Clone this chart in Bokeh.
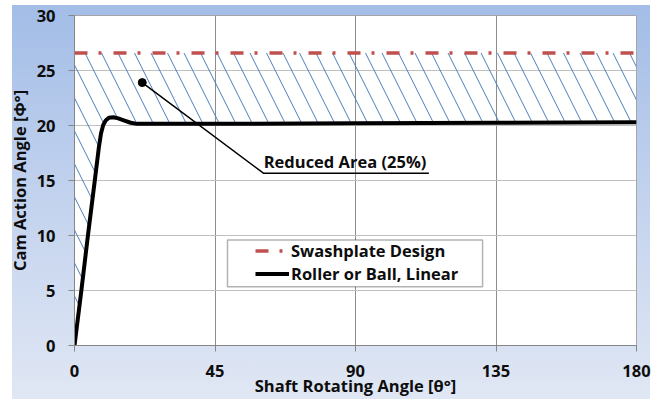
from bokeh.plotting import figure
from bokeh.models import Range1d, FixedTicker, Legend, LegendItem, BoxAnnotation
from bokeh.core.properties import value
from bokeh.embed import file_html
from bokeh.resources import INLINE

# ---- data ----
roller_x = [0, 2.2, 4.3, 6.5, 7.8, 8.5, 9.2, 10, 11, 12.5, 14, 16, 18, 20, 45, 90, 135, 180]
roller_y = [0, 5, 10, 15, 18, 19.3, 20.05, 20.45, 20.7, 20.75, 20.65, 20.45, 20.25, 20.15, 20.15, 20.2, 20.25, 20.3]
swash_x = [0, 180]
swash_y = [26.6, 26.6]
x_ticks = [0, 45, 90, 135, 180]
y_ticks = [0, 5, 10, 15, 20, 25, 30]
note_text = "Reduced Area (25%)"
note_point = (21.7, 23.9)
note_elbow = (60.6, 15.65)
note_end_x = 113.5
legend_box = dict(left=49.0, right=130.7, bottom=5.35, top=9.6)

TXT = "#0d0d0d"
FONT = "Open Sans"
FS = "16.5px"

p = figure(width=656, height=399, output_backend="svg", toolbar_location=None,
           x_range=Range1d(0, 180), y_range=Range1d(0, 30),
           min_border_left=74, min_border_right=20, min_border_top=15, min_border_bottom=53)
p.border_fill_color = None
p.styles = {"background": "linear-gradient(to bottom, #a3bde7 0%, #c3d3ee 50%, #e0e7f4 100%) 12px 5px / 638px 394px no-repeat, white"}
p.background_fill_color = "white"
p.outline_line_color = "#a6a6a6"
p.outline_line_width = 1

# hatched reduced area: between curve and swashplate level
area_x = roller_x + [swash_x[1], swash_x[0]]
area_y = roller_y + [swash_y[1], swash_y[0]]
p.patch(area_x, area_y, fill_alpha=0, line_alpha=0,
        hatch_pattern="\\", hatch_color="#4a7ebb", hatch_weight=1, hatch_scale=33)

r_swash = p.line(swash_x, swash_y, line_color="#c0504d", line_width=3.5, line_dash="13 11 3 12")
r_roll = p.line(roller_x, roller_y, line_color="black", line_width=4, line_join="round")

# annotation
p.line([note_point[0], note_elbow[0], note_end_x], [note_point[1], note_elbow[1], note_elbow[1]],
       line_color="black", line_width=1.5)
p.scatter([note_point[0]], [note_point[1]], size=8, color="black")
p.text([note_elbow[0]], [note_elbow[1]], text=[note_text], text_font=value(FONT), text_font_style="bold",
       text_font_size=FS, text_color=TXT, text_baseline="bottom", text_align="left", y_offset=0)

# axes
for ax in (p.xaxis[0], p.yaxis[0]):
    ax.axis_line_color = "#868686"
    ax.major_tick_line_color = "#868686"
    ax.major_tick_out = 6
    ax.major_tick_in = 0
    ax.minor_tick_line_color = None
    ax.major_label_text_font = FONT
    ax.major_label_text_font_style = "bold"
    ax.major_label_text_font_size = FS
    ax.major_label_text_color = TXT
    ax.axis_label_text_font = FONT
    ax.axis_label_text_font_style = "bold"
    ax.axis_label_text_font_size = FS
    ax.axis_label_text_color = TXT

p.xaxis.ticker = FixedTicker(ticks=x_ticks)
p.yaxis.ticker = FixedTicker(ticks=y_ticks)
p.xaxis.axis_label = "Shaft Rotating Angle [θ°]"
p.yaxis.axis_label = "Cam Action Angle [Φ°]"
p.xaxis.major_label_standoff = 13
p.yaxis.major_label_standoff = 13
p.xaxis.axis_label_standoff = -6
p.yaxis.axis_label_standoff = 3

p.xgrid.ticker = FixedTicker(ticks=x_ticks)
p.ygrid.ticker = FixedTicker(ticks=y_ticks)
p.xgrid.grid_line_color = "#8c8c8c"
p.ygrid.grid_line_color = "#bfbfbf"

# legend
p.add_layout(BoxAnnotation(fill_color="white", fill_alpha=1, line_color="black", line_width=1.5,
                           **legend_box))
legend = Legend(items=[LegendItem(label="Swashplate Design", renderers=[r_swash]),
                       LegendItem(label="Roller or Ball, Linear", renderers=[r_roll])],
                location=(181, 60), padding=0, margin=0, spacing=0,
                glyph_width=34, glyph_height=23, label_height=23, label_standoff=2,
                label_text_font=FONT, label_text_font_style="bold", label_text_font_size=FS,
                label_text_color=TXT, background_fill_alpha=0, border_line_alpha=0)
p.add_layout(legend, "center")

open("out.html", "w").write(file_html(p, INLINE))
